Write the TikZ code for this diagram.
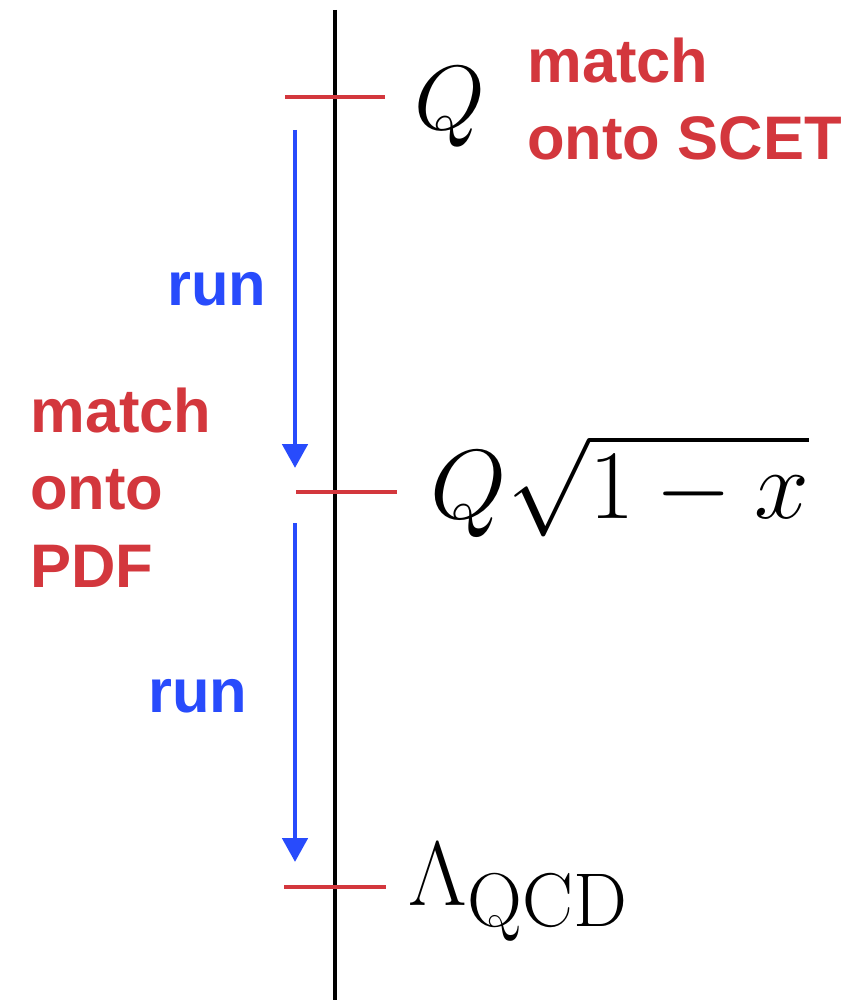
\documentclass[tikz,border=0pt]{standalone}
\usepackage{fontspec}
\usepackage{tikz}
\usetikzlibrary{arrows.meta}
\newfontfamily\lblfont{Liberation Sans}
\definecolor{matchred}{RGB}{211,55,61}
\definecolor{runblue}{RGB}{40,75,252}

\begin{document}
\begin{tikzpicture}[
    x=0.02cm, y=-0.02cm,
    axis/.style={draw,black,line width=2.8pt},
    tick/.style={draw,matchred,line width=2.8pt},
    runarrow/.style={draw,runblue,line width=2.8pt,-{Triangle[length=0.48cm,width=0.5cm]}},
    scalelbl/.style={inner sep=0pt,anchor=base west,font=\Huge},
    matchlbl/.style={inner sep=0pt,anchor=base west,align=left,text=matchred,font=\lblfont\bfseries\fontsize{35}{44}\selectfont},
    runlbl/.style={inner sep=0pt,anchor=base west,text=runblue,font=\lblfont\bfseries\fontsize{35}{44}\selectfont}
  ]
  \useasboundingbox (0,0) rectangle (853,1000);
  \coordinate (top) at (335,10);
  \coordinate (bot) at (335,1000);
  \coordinate (tQ) at (335,97);
  \coordinate (tMid) at (335,492);
  \coordinate (tLam) at (335,887);
  \draw[axis] (top) -- (bot);
  \draw[tick] ([xshift=-1cm]tQ) -- ([xshift=1cm]tQ);
  \draw[tick] ([xshift=-0.78cm]tMid) -- ([xshift=1.24cm]tMid);
  \draw[tick] ([xshift=-1.02cm]tLam) -- ([xshift=1.02cm]tLam);
  \coordinate (run1a) at (295,130);
  \coordinate (run1b) at (295,468);
  \coordinate (run2a) at (295,523);
  \coordinate (run2b) at (295,862);
  \draw[runarrow] (run1a) -- (run1b);
  \draw[runarrow] (run2a) -- (run2b);
  \node[scalelbl,scale=2.09] (labQ) at (414,130) {$Q$};
  \node[scalelbl,scale=2.25] (labMid) at (430,518) {$Q\sqrt{1-x}$};
  \node[scalelbl,scale=2.09] (labLam) at (408,905) {$\Lambda_{\mathrm{QCD}}$};
  \node[matchlbl] (matchSCET) at (527,160) {match\\onto SCET};
  \node[matchlbl] (matchPDF) at (30,587) {match\\onto\\PDF};
  \node[runlbl] (runhi) at (167,305) {run};
  \node[runlbl] (runlo) at (148,712) {run};
\end{tikzpicture}
\end{document}
